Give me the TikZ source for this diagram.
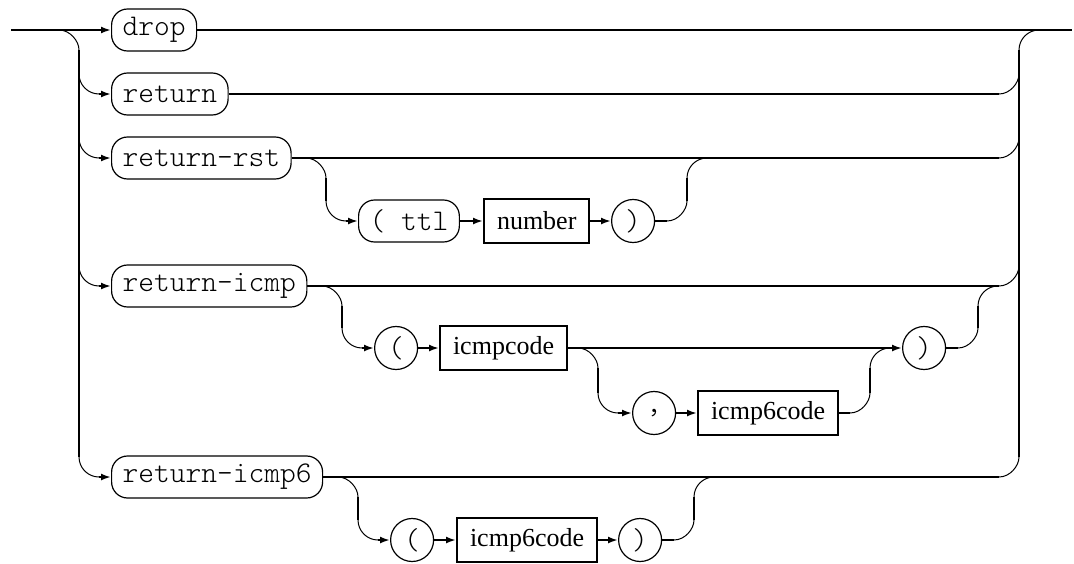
\documentclass[tikz,border=0pt]{standalone}
\usepackage{fontspec}
\setmainfont{Liberation Serif}
\newfontfamily\courierlike{lmmonolt10-regular.otf}
\usetikzlibrary{arrows.meta}
\tikzset{
  rl/.style={line width=2pt},
  cv/.style={line width=1pt},
  arr/.style={rl,-{Latex[length=10pt,width=7pt]}},
  term/.style={draw,line width=1.2pt,rounded corners=16pt,minimum height=42pt,inner xsep=11pt,inner ysep=0pt,font=\courierlike\fontsize{30}{34}\selectfont},
  circ/.style={draw,circle,line width=1.2pt,minimum size=43pt,inner sep=0pt,font=\courierlike\fontsize{30}{34}\selectfont},
  nonterm/.style={draw,rectangle,line width=2pt,minimum height=44pt,inner xsep=13pt,inner ysep=0pt,font=\rmfamily\fontsize{26}{30}\selectfont}
}
\begin{document}
\begin{tikzpicture}[x=1pt,y=-1pt]
\path[use as bounding box] (0,0) rectangle (1074,563);
% nodes
\node[term,anchor=west] (drop) at (111,30) {drop};
\node[term,anchor=west] (ret) at (111,94) {return};
\node[term,anchor=west] (rst) at (111,158) {return-rst};
\node[term,anchor=west] (icmp) at (111,286) {return-icmp};
\node[term,anchor=west] (icmpsix) at (111,477) {return-icmp6};
\node[term,anchor=west] (ttl) at (358,221) {( ttl};
\node[nonterm,anchor=west] (num) at (483,221) {number};
\node[circ,anchor=west] (rpa) at (611,221) {)};
\node[circ,anchor=west] (lpb) at (374,348) {(};
\node[nonterm,anchor=west] (icode) at (439,348) {icmpcode};
\node[circ,anchor=west] (rpb) at (902,348) {)};
\node[circ,anchor=west] (comma) at (632,413) {,};
\node[nonterm,anchor=west] (isixa) at (697,413) {icmp6code};
\node[circ,anchor=west] (lpc) at (390,540) {(};
\node[nonterm,anchor=west] (isixb) at (456,540) {icmp6code};
\node[circ,anchor=west] (rpc) at (618,540) {)};
% coordinates
\coordinate (start) at (11,30);
\coordinate (finish) at (1072,30);
% entry and exit
\draw[arr] (start) -- (drop.west);
\draw[rl] (drop.east) -- (finish);
% left rail
\draw[cv] (59,30) .. controls (70,30) and (79,41) .. (79,50);
\draw[rl] (79,50) -- (79,457);
\draw[cv] (79,457) .. controls (79,468) and (88,477) .. (99,477);
\draw[arr] (99,477) -- (icmpsix.west);
\foreach \y/\n in {94/ret,158/rst,286/icmp}{
  \draw[cv] (79,\y-20) .. controls (79,\y-9) and (88,\y) .. (99,\y);
  \draw[arr] (99,\y) -- (\n.west);
}
% right rail
\draw[cv] (1019,50) .. controls (1019,39) and (1028,30) .. (1039,30);
\draw[rl] (1019,50) -- (1019,457);
\foreach \y/\n in {94/ret,158/rst,286/icmp,477/icmpsix}{
  \draw[rl] (\n.east) -- (999,\y);
  \draw[cv] (999,\y) .. controls (1010,\y) and (1019,\y-11) .. (1019,\y-20);
}
% ttl branch
\draw[cv] (306,158) .. controls (317,158) and (326,169) .. (326,178);
\draw[rl] (326,178) -- (326,201);
\draw[cv] (326,201) .. controls (326,212) and (335,221) .. (346,221);
\draw[arr] (346,221) -- (ttl.west);
\draw[arr] (ttl.east) -- (num.west);
\draw[arr] (num.east) -- (rpa.west);
\draw[rl] (rpa.east) -- (667,221);
\draw[cv] (667,221) .. controls (678,221) and (687,210) .. (687,201);
\draw[rl] (687,201) -- (687,178);
\draw[cv] (687,178) .. controls (687,167) and (696,158) .. (707,158);
% icmp branch
\draw[cv] (322,286) .. controls (333,286) and (342,297) .. (342,306);
\draw[rl] (342,306) -- (342,328);
\draw[cv] (342,328) .. controls (342,339) and (351,348) .. (362,348);
\draw[arr] (362,348) -- (lpb.west);
\draw[arr] (lpb.east) -- (icode.west);
\draw[arr] (icode.east) -- (rpb.west);
\draw[rl] (rpb.east) -- (958,348);
\draw[cv] (958,348) .. controls (969,348) and (978,337) .. (978,328);
\draw[rl] (978,328) -- (978,306);
\draw[cv] (978,306) .. controls (978,295) and (987,286) .. (998,286);
% comma branch
\draw[cv] (578,348) .. controls (589,348) and (598,359) .. (598,368);
\draw[rl] (598,368) -- (598,393);
\draw[cv] (598,393) .. controls (598,404) and (607,413) .. (618,413);
\draw[arr] (618,413) -- (comma.west);
\draw[arr] (comma.east) -- (isixa.west);
\draw[rl] (isixa.east) -- (850,413);
\draw[cv] (850,413) .. controls (861,413) and (870,402) .. (870,393);
\draw[rl] (870,393) -- (870,368);
\draw[cv] (870,368) .. controls (870,357) and (879,348) .. (890,348);
% bottom branch
\draw[cv] (338,477) .. controls (349,477) and (358,488) .. (358,497);
\draw[rl] (358,497) -- (358,520);
\draw[cv] (358,520) .. controls (358,531) and (367,540) .. (378,540);
\draw[arr] (378,540) -- (lpc.west);
\draw[arr] (lpc.east) -- (isixb.west);
\draw[arr] (isixb.east) -- (rpc.west);
\draw[rl] (rpc.east) -- (674,540);
\draw[cv] (674,540) .. controls (685,540) and (694,529) .. (694,520);
\draw[rl] (694,520) -- (694,497);
\draw[cv] (694,497) .. controls (694,486) and (703,477) .. (714,477);
\end{tikzpicture}
\end{document}
